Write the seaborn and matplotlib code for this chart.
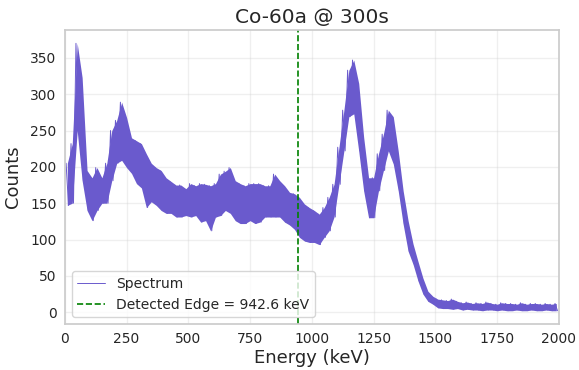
import numpy as np
import matplotlib
matplotlib.use("Agg")
import matplotlib.pyplot as plt
import pandas as pd
import seaborn as sns

# spectrum: upper / lower counts per 20 keV bin
bin_width = 20
counts_hi = [205, 232, 370, 323, 195, 185, 199, 185, 205, 250,
             264, 289, 268, 240, 236, 232, 218, 205, 199, 195,
             185, 180, 175, 175, 170, 177, 174, 177, 176, 174,
             177, 190, 194, 199, 181, 177, 174, 177, 177, 177,
             174, 174, 190, 181, 174, 165, 163, 158, 149, 144,
             140, 135, 144, 158, 176, 227, 278, 333, 347, 315,
             241, 185, 185, 218, 245, 278, 269, 222, 167, 126,
             94, 70, 47, 29, 22, 18, 17, 16, 18, 15,
             13, 14, 12, 13, 12, 14, 12, 11, 13, 12,
             12, 11, 13, 11, 12, 12, 11, 12, 11, 12]
counts_lo = [147, 150, 250, 181, 140, 126, 140, 150, 150, 181,
             205, 209, 199, 191, 177, 171, 144, 152, 147, 140,
             136, 136, 131, 131, 133, 131, 133, 124, 126, 112,
             131, 133, 140, 136, 126, 122, 122, 126, 122, 124,
             131, 131, 131, 131, 124, 120, 114, 103, 98, 96,
             96, 93, 103, 112, 131, 176, 222, 269, 273, 222,
             167, 130, 130, 167, 195, 222, 204, 167, 121, 84,
             66, 43, 25, 15, 11, 6, 5, 5, 4, 5,
             3, 4, 3, 3, 2, 3, 3, 2, 3, 2,
             2, 3, 2, 2, 3, 2, 2, 3, 2, 2]
edge_kev = 942.6
sample = "Co-60a"
live_time = 300

bin_start = np.arange(len(counts_hi)) * bin_width
centers = bin_start + bin_width / 2
# noisy trace: up to the upper value, down to the lower value in every bin
energy = np.column_stack([bin_start + 5, bin_start + 15]).ravel()
counts = np.column_stack([counts_hi, counts_lo]).ravel()
df = pd.DataFrame({"Energy": energy, "Counts": counts})

sns.set_theme(style="whitegrid")
fig, ax = plt.subplots(figsize=(5.79, 3.7), dpi=100)

color = "slateblue"
ax.fill_between(centers, counts_lo, counts_hi, color=color, linewidth=0)
sns.lineplot(data=df, x="Energy", y="Counts", sort=False, estimator=None,
             color=color, linewidth=0.7, label="Spectrum", ax=ax)
ax.axvline(edge_kev, color="green", linestyle="--", linewidth=1.2,
           label=f"Detected Edge = {edge_kev:.1f} keV")

ax.set_xlim(0, 2000)
ax.set_title(f"{sample} @ {live_time}s", fontsize=14.5, pad=5)
ax.set_xlabel("Energy (keV)", fontsize=13, labelpad=2)
ax.set_ylabel("Counts", fontsize=13, labelpad=6)
ax.tick_params(labelsize=10, length=0, pad=6)
ax.grid(alpha=0.3)
ax.legend(loc="lower left", fontsize=10)

plt.subplots_adjust(left=0.112, right=0.965, top=0.919, bottom=0.124)
plt.savefig("out.png", dpi=100)
